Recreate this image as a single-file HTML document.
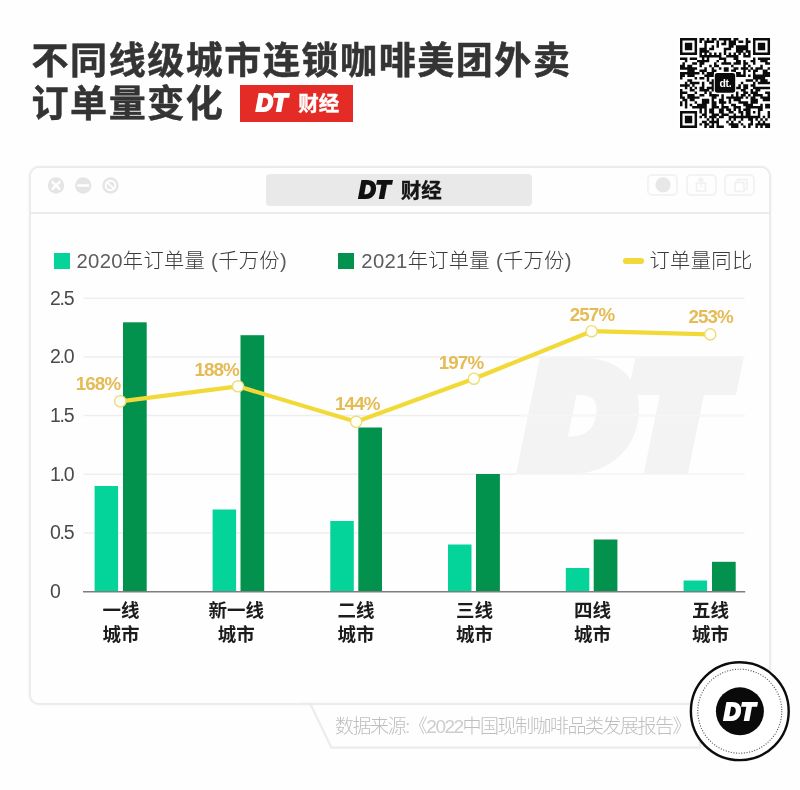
<!DOCTYPE html>
<html lang="zh-CN">
<head>
<meta charset="utf-8">
<title>不同线级城市连锁咖啡美团外卖订单量变化</title>
<style>
*{margin:0;padding:0;box-sizing:border-box;}
html,body{width:800px;height:790px;background:#fefefe;overflow:hidden;}
body{position:relative;font-family:"Liberation Sans","Noto Sans CJK SC",sans-serif;color:#333;}
.abs{position:absolute;}
svg{overflow:visible;}
.title{left:31.5px;top:39.5px;font-size:37px;line-height:43.5px;font-weight:700;color:#343434;letter-spacing:1.57px;white-space:nowrap;-webkit-text-stroke:0.5px #343434;}
.badge{left:240.2px;top:85.2px;width:112.4px;height:36.6px;background:#e42b25;}
.cj{font-size:20.5px;line-height:30px;font-weight:700;white-space:nowrap;}
.card{left:29px;top:165.5px;width:742px;height:539.4px;border:2.2px solid #ececec;border-radius:10px;background:#fefefe;box-shadow:0 0 3px rgba(0,0,0,0.05);}
.sep{left:31px;top:212px;width:738px;height:2px;background:#ececec;}
.pill{left:266px;top:174px;width:266px;height:32px;background:#e9e9e9;border-radius:4px;}
.ibtn{top:174px;width:31px;height:22px;border:2px solid #f3f3f3;border-radius:5px;}
.legend{top:246px;font-size:20.3px;line-height:30px;font-weight:300;color:#3a3a3a;white-space:nowrap;letter-spacing:0.3px;}
.lt{color:#5c5c5c;}
.lt2{color:#cdcdcd;}
.sq{width:16px;height:16px;top:253px;}
.ylab{left:50px;font-size:19.5px;line-height:24px;font-weight:400;color:#4a4a4a;letter-spacing:-1.3px;white-space:nowrap;}
.xlab{width:100px;text-align:center;font-size:18.5px;line-height:24px;font-weight:700;color:#1c1c1c;top:598.6px;}
.pct{font-size:18.8px;line-height:22px;font-weight:700;color:#e5bb55;width:70px;text-align:center;letter-spacing:-0.9px;white-space:nowrap;}
.src{left:335px;top:713.4px;font-size:19px;line-height:28px;font-weight:200;color:#bebebe;white-space:nowrap;letter-spacing:-1.5px;}
</style>
</head>
<body>
<div class="abs title">不同线级城市连锁咖啡美团外卖<br>订单量变化</div>

<div class="abs badge"></div>
<svg class="abs" style="left:240px;top:85px" width="113" height="37" viewBox="0 0 113 37">
  <text x="15.9" y="26.2" font-family="Liberation Sans, sans-serif" font-size="23.8" font-weight="700" font-style="italic" fill="#fff" stroke="#fff" stroke-width="2.1" stroke-linejoin="miter" textLength="31.3" lengthAdjust="spacingAndGlyphs">DT</text>
</svg>
<div class="abs cj" style="left:298.2px;top:89px;color:#fff;-webkit-text-stroke:0.35px #fff">财经</div>

<!-- QR code -->
<svg class="abs" style="left:679.8px;top:38.3px" width="90" height="90" viewBox="0 0 90 90">
  <rect x="-2" y="-2" width="94" height="94" fill="#fff"/>
  <path fill="#0b0b0b" d="M0.00,0.00h17.08v2.48h-17.08zM19.46,0.00h4.91v2.48h-4.91zM26.76,0.00h2.48v2.48h-2.48zM31.62,0.00h4.91v2.48h-4.91zM38.92,0.00h12.21v2.48h-12.21zM53.51,0.00h4.91v2.48h-4.91zM65.68,0.00h2.48v2.48h-2.48zM72.97,0.00h17.08v2.48h-17.08zM0.00,2.43h2.48v2.48h-2.48zM14.59,2.43h2.48v2.48h-2.48zM19.46,2.43h2.48v2.48h-2.48zM24.32,2.43h9.78v2.48h-9.78zM36.49,2.43h2.48v2.48h-2.48zM43.78,2.43h2.48v2.48h-2.48zM48.65,2.43h7.35v2.48h-7.35zM58.38,2.43h4.91v2.48h-4.91zM65.68,2.43h4.91v2.48h-4.91zM72.97,2.43h2.48v2.48h-2.48zM87.57,2.43h2.48v2.48h-2.48zM0.00,4.86h2.48v2.48h-2.48zM4.86,4.86h7.35v2.48h-7.35zM14.59,4.86h2.48v2.48h-2.48zM24.32,4.86h2.48v2.48h-2.48zM36.49,4.86h2.48v2.48h-2.48zM41.35,4.86h4.91v2.48h-4.91zM48.65,4.86h7.35v2.48h-7.35zM65.68,4.86h2.48v2.48h-2.48zM72.97,4.86h2.48v2.48h-2.48zM77.84,4.86h7.35v2.48h-7.35zM87.57,4.86h2.48v2.48h-2.48zM0.00,7.30h2.48v2.48h-2.48zM4.86,7.30h7.35v2.48h-7.35zM14.59,7.30h2.48v2.48h-2.48zM24.32,7.30h2.48v2.48h-2.48zM31.62,7.30h2.48v2.48h-2.48zM36.49,7.30h2.48v2.48h-2.48zM48.65,7.30h4.91v2.48h-4.91zM55.95,7.30h12.21v2.48h-12.21zM72.97,7.30h2.48v2.48h-2.48zM77.84,7.30h7.35v2.48h-7.35zM87.57,7.30h2.48v2.48h-2.48zM0.00,9.73h2.48v2.48h-2.48zM4.86,9.73h7.35v2.48h-7.35zM14.59,9.73h2.48v2.48h-2.48zM19.46,9.73h7.35v2.48h-7.35zM29.19,9.73h4.91v2.48h-4.91zM43.78,9.73h7.35v2.48h-7.35zM55.95,9.73h12.21v2.48h-12.21zM72.97,9.73h2.48v2.48h-2.48zM77.84,9.73h7.35v2.48h-7.35zM87.57,9.73h2.48v2.48h-2.48zM0.00,12.16h2.48v2.48h-2.48zM14.59,12.16h2.48v2.48h-2.48zM19.46,12.16h9.78v2.48h-9.78zM43.78,12.16h2.48v2.48h-2.48zM55.95,12.16h7.35v2.48h-7.35zM65.68,12.16h4.91v2.48h-4.91zM72.97,12.16h2.48v2.48h-2.48zM87.57,12.16h2.48v2.48h-2.48zM0.00,14.59h17.08v2.48h-17.08zM19.46,14.59h2.48v2.48h-2.48zM24.32,14.59h2.48v2.48h-2.48zM29.19,14.59h2.48v2.48h-2.48zM34.05,14.59h2.48v2.48h-2.48zM38.92,14.59h2.48v2.48h-2.48zM43.78,14.59h2.48v2.48h-2.48zM48.65,14.59h2.48v2.48h-2.48zM53.51,14.59h2.48v2.48h-2.48zM58.38,14.59h2.48v2.48h-2.48zM63.24,14.59h2.48v2.48h-2.48zM68.11,14.59h2.48v2.48h-2.48zM72.97,14.59h17.08v2.48h-17.08zM19.46,17.03h21.94v2.48h-21.94zM46.22,17.03h12.21v2.48h-12.21zM63.24,17.03h7.35v2.48h-7.35zM0.00,19.46h7.35v2.48h-7.35zM9.73,19.46h7.35v2.48h-7.35zM21.89,19.46h2.48v2.48h-2.48zM26.76,19.46h2.48v2.48h-2.48zM38.92,19.46h7.35v2.48h-7.35zM53.51,19.46h4.91v2.48h-4.91zM72.97,19.46h2.48v2.48h-2.48zM77.84,19.46h12.21v2.48h-12.21zM4.86,21.89h2.48v2.48h-2.48zM17.03,21.89h12.21v2.48h-12.21zM36.49,21.89h2.48v2.48h-2.48zM43.78,21.89h2.48v2.48h-2.48zM55.95,21.89h4.91v2.48h-4.91zM63.24,21.89h2.48v2.48h-2.48zM70.54,21.89h4.91v2.48h-4.91zM80.27,21.89h7.35v2.48h-7.35zM2.43,24.32h2.48v2.48h-2.48zM12.16,24.32h4.91v2.48h-4.91zM19.46,24.32h4.91v2.48h-4.91zM34.05,24.32h2.48v2.48h-2.48zM41.35,24.32h9.78v2.48h-9.78zM53.51,24.32h7.35v2.48h-7.35zM63.24,24.32h4.91v2.48h-4.91zM72.97,24.32h2.48v2.48h-2.48zM85.14,24.32h4.91v2.48h-4.91zM0.00,26.76h4.91v2.48h-4.91zM7.30,26.76h4.91v2.48h-4.91zM19.46,26.76h2.48v2.48h-2.48zM29.19,26.76h2.48v2.48h-2.48zM34.05,26.76h4.91v2.48h-4.91zM51.08,26.76h2.48v2.48h-2.48zM63.24,26.76h2.48v2.48h-2.48zM68.11,26.76h2.48v2.48h-2.48zM80.27,26.76h2.48v2.48h-2.48zM0.00,29.19h17.08v2.48h-17.08zM24.32,29.19h2.48v2.48h-2.48zM31.62,29.19h2.48v2.48h-2.48zM38.92,29.19h2.48v2.48h-2.48zM43.78,29.19h4.91v2.48h-4.91zM53.51,29.19h4.91v2.48h-4.91zM60.81,29.19h7.35v2.48h-7.35zM70.54,29.19h2.48v2.48h-2.48zM75.41,29.19h7.35v2.48h-7.35zM87.57,29.19h2.48v2.48h-2.48zM7.30,31.62h7.35v2.48h-7.35zM19.46,31.62h7.35v2.48h-7.35zM31.62,31.62h4.91v2.48h-4.91zM43.78,31.62h4.91v2.48h-4.91zM51.08,31.62h4.91v2.48h-4.91zM63.24,31.62h2.48v2.48h-2.48zM68.11,31.62h2.48v2.48h-2.48zM72.97,31.62h4.91v2.48h-4.91zM82.70,31.62h4.91v2.48h-4.91zM0.00,34.05h19.51v2.48h-19.51zM21.89,34.05h2.48v2.48h-2.48zM26.76,34.05h7.35v2.48h-7.35zM55.95,34.05h4.91v2.48h-4.91zM63.24,34.05h2.48v2.48h-2.48zM72.97,34.05h2.48v2.48h-2.48zM82.70,34.05h7.35v2.48h-7.35zM0.00,36.49h4.91v2.48h-4.91zM7.30,36.49h7.35v2.48h-7.35zM24.32,36.49h9.78v2.48h-9.78zM55.95,36.49h9.78v2.48h-9.78zM68.11,36.49h2.48v2.48h-2.48zM72.97,36.49h17.08v2.48h-17.08zM0.00,38.92h2.48v2.48h-2.48zM14.59,38.92h2.48v2.48h-2.48zM19.46,38.92h4.91v2.48h-4.91zM26.76,38.92h2.48v2.48h-2.48zM72.97,38.92h12.21v2.48h-12.21zM7.30,41.35h4.91v2.48h-4.91zM26.76,41.35h2.48v2.48h-2.48zM31.62,41.35h2.48v2.48h-2.48zM65.68,41.35h7.35v2.48h-7.35zM75.41,41.35h2.48v2.48h-2.48zM80.27,41.35h7.35v2.48h-7.35zM4.86,43.78h2.48v2.48h-2.48zM9.73,43.78h9.78v2.48h-9.78zM21.89,43.78h2.48v2.48h-2.48zM29.19,43.78h4.91v2.48h-4.91zM60.81,43.78h2.48v2.48h-2.48zM72.97,43.78h2.48v2.48h-2.48zM77.84,43.78h12.21v2.48h-12.21zM0.00,46.22h9.78v2.48h-9.78zM12.16,46.22h2.48v2.48h-2.48zM21.89,46.22h2.48v2.48h-2.48zM31.62,46.22h2.48v2.48h-2.48zM58.38,46.22h2.48v2.48h-2.48zM63.24,46.22h4.91v2.48h-4.91zM70.54,46.22h4.91v2.48h-4.91zM4.86,48.65h2.48v2.48h-2.48zM9.73,48.65h2.48v2.48h-2.48zM14.59,48.65h2.48v2.48h-2.48zM19.46,48.65h4.91v2.48h-4.91zM26.76,48.65h7.35v2.48h-7.35zM55.95,48.65h4.91v2.48h-4.91zM63.24,48.65h4.91v2.48h-4.91zM72.97,48.65h17.08v2.48h-17.08zM0.00,51.08h2.48v2.48h-2.48zM9.73,51.08h4.91v2.48h-4.91zM19.46,51.08h9.78v2.48h-9.78zM31.62,51.08h2.48v2.48h-2.48zM60.81,51.08h4.91v2.48h-4.91zM70.54,51.08h2.48v2.48h-2.48zM75.41,51.08h4.91v2.48h-4.91zM0.00,53.51h7.35v2.48h-7.35zM14.59,53.51h2.48v2.48h-2.48zM24.32,53.51h2.48v2.48h-2.48zM29.19,53.51h2.48v2.48h-2.48zM55.95,53.51h2.48v2.48h-2.48zM63.24,53.51h4.91v2.48h-4.91zM70.54,53.51h7.35v2.48h-7.35zM85.14,53.51h4.91v2.48h-4.91zM0.00,55.95h2.48v2.48h-2.48zM7.30,55.95h7.35v2.48h-7.35zM19.46,55.95h4.91v2.48h-4.91zM29.19,55.95h9.78v2.48h-9.78zM41.35,55.95h2.48v2.48h-2.48zM51.08,55.95h2.48v2.48h-2.48zM55.95,55.95h2.48v2.48h-2.48zM60.81,55.95h4.91v2.48h-4.91zM68.11,55.95h2.48v2.48h-2.48zM72.97,55.95h9.78v2.48h-9.78zM87.57,55.95h2.48v2.48h-2.48zM0.00,58.38h4.91v2.48h-4.91zM7.30,58.38h12.21v2.48h-12.21zM31.62,58.38h4.91v2.48h-4.91zM41.35,58.38h2.48v2.48h-2.48zM46.22,58.38h17.08v2.48h-17.08zM65.68,58.38h2.48v2.48h-2.48zM70.54,58.38h4.91v2.48h-4.91zM80.27,58.38h9.78v2.48h-9.78zM2.43,60.81h4.91v2.48h-4.91zM9.73,60.81h4.91v2.48h-4.91zM21.89,60.81h7.35v2.48h-7.35zM31.62,60.81h2.48v2.48h-2.48zM38.92,60.81h4.91v2.48h-4.91zM48.65,60.81h2.48v2.48h-2.48zM53.51,60.81h7.35v2.48h-7.35zM70.54,60.81h7.35v2.48h-7.35zM82.70,60.81h7.35v2.48h-7.35zM0.00,63.24h2.48v2.48h-2.48zM4.86,63.24h2.48v2.48h-2.48zM14.59,63.24h2.48v2.48h-2.48zM21.89,63.24h7.35v2.48h-7.35zM31.62,63.24h4.91v2.48h-4.91zM38.92,63.24h7.35v2.48h-7.35zM48.65,63.24h2.48v2.48h-2.48zM58.38,63.24h9.78v2.48h-9.78zM70.54,63.24h7.35v2.48h-7.35zM0.00,65.68h2.48v2.48h-2.48zM4.86,65.68h2.48v2.48h-2.48zM9.73,65.68h2.48v2.48h-2.48zM17.03,65.68h9.78v2.48h-9.78zM31.62,65.68h4.91v2.48h-4.91zM41.35,65.68h2.48v2.48h-2.48zM51.08,65.68h4.91v2.48h-4.91zM63.24,65.68h9.78v2.48h-9.78zM80.27,65.68h2.48v2.48h-2.48zM85.14,65.68h4.91v2.48h-4.91zM4.86,68.11h2.48v2.48h-2.48zM12.16,68.11h14.64v2.48h-14.64zM31.62,68.11h7.35v2.48h-7.35zM41.35,68.11h7.35v2.48h-7.35zM53.51,68.11h7.35v2.48h-7.35zM65.68,68.11h17.08v2.48h-17.08zM85.14,68.11h4.91v2.48h-4.91zM19.46,70.54h2.48v2.48h-2.48zM24.32,70.54h2.48v2.48h-2.48zM29.19,70.54h4.91v2.48h-4.91zM38.92,70.54h4.91v2.48h-4.91zM46.22,70.54h4.91v2.48h-4.91zM53.51,70.54h2.48v2.48h-2.48zM58.38,70.54h2.48v2.48h-2.48zM63.24,70.54h7.35v2.48h-7.35zM77.84,70.54h4.91v2.48h-4.91zM0.00,72.97h17.08v2.48h-17.08zM19.46,72.97h2.48v2.48h-2.48zM24.32,72.97h2.48v2.48h-2.48zM29.19,72.97h4.91v2.48h-4.91zM38.92,72.97h4.91v2.48h-4.91zM48.65,72.97h4.91v2.48h-4.91zM58.38,72.97h4.91v2.48h-4.91zM65.68,72.97h4.91v2.48h-4.91zM72.97,72.97h2.48v2.48h-2.48zM77.84,72.97h2.48v2.48h-2.48zM87.57,72.97h2.48v2.48h-2.48zM0.00,75.41h2.48v2.48h-2.48zM14.59,75.41h2.48v2.48h-2.48zM21.89,75.41h4.91v2.48h-4.91zM31.62,75.41h7.35v2.48h-7.35zM41.35,75.41h7.35v2.48h-7.35zM53.51,75.41h2.48v2.48h-2.48zM60.81,75.41h2.48v2.48h-2.48zM65.68,75.41h4.91v2.48h-4.91zM77.84,75.41h2.48v2.48h-2.48zM87.57,75.41h2.48v2.48h-2.48zM0.00,77.84h2.48v2.48h-2.48zM4.86,77.84h7.35v2.48h-7.35zM14.59,77.84h2.48v2.48h-2.48zM19.46,77.84h2.48v2.48h-2.48zM24.32,77.84h2.48v2.48h-2.48zM29.19,77.84h7.35v2.48h-7.35zM38.92,77.84h4.91v2.48h-4.91zM48.65,77.84h31.67v2.48h-31.67zM82.70,77.84h2.48v2.48h-2.48zM87.57,77.84h2.48v2.48h-2.48zM0.00,80.27h2.48v2.48h-2.48zM4.86,80.27h7.35v2.48h-7.35zM14.59,80.27h2.48v2.48h-2.48zM26.76,80.27h2.48v2.48h-2.48zM31.62,80.27h2.48v2.48h-2.48zM36.49,80.27h2.48v2.48h-2.48zM48.65,80.27h2.48v2.48h-2.48zM53.51,80.27h2.48v2.48h-2.48zM60.81,80.27h2.48v2.48h-2.48zM68.11,80.27h4.91v2.48h-4.91zM75.41,80.27h2.48v2.48h-2.48zM80.27,80.27h2.48v2.48h-2.48zM85.14,80.27h2.48v2.48h-2.48zM0.00,82.70h2.48v2.48h-2.48zM4.86,82.70h7.35v2.48h-7.35zM14.59,82.70h2.48v2.48h-2.48zM21.89,82.70h4.91v2.48h-4.91zM29.19,82.70h9.78v2.48h-9.78zM46.22,82.70h2.48v2.48h-2.48zM51.08,82.70h2.48v2.48h-2.48zM58.38,82.70h2.48v2.48h-2.48zM70.54,82.70h2.48v2.48h-2.48zM77.84,82.70h2.48v2.48h-2.48zM82.70,82.70h2.48v2.48h-2.48zM0.00,85.14h2.48v2.48h-2.48zM14.59,85.14h2.48v2.48h-2.48zM19.46,85.14h2.48v2.48h-2.48zM24.32,85.14h4.91v2.48h-4.91zM31.62,85.14h2.48v2.48h-2.48zM36.49,85.14h2.48v2.48h-2.48zM48.65,85.14h9.78v2.48h-9.78zM60.81,85.14h2.48v2.48h-2.48zM68.11,85.14h4.91v2.48h-4.91zM75.41,85.14h14.64v2.48h-14.64zM0.00,87.57h17.08v2.48h-17.08zM24.32,87.57h2.48v2.48h-2.48zM29.19,87.57h4.91v2.48h-4.91zM36.49,87.57h7.35v2.48h-7.35zM51.08,87.57h7.35v2.48h-7.35zM63.24,87.57h2.48v2.48h-2.48zM68.11,87.57h2.48v2.48h-2.48zM75.41,87.57h2.48v2.48h-2.48zM80.27,87.57h2.48v2.48h-2.48zM85.14,87.57h4.91v2.48h-4.91z"/>
  <rect x="33.8" y="33.8" width="22.4" height="22.4" rx="3" fill="#fff"/>
  <rect x="34.8" y="34.9" width="20.4" height="19.8" rx="2.6" fill="#0b0b0b" shape-rendering="auto"/>
  <text x="45.5" y="48.8" text-anchor="middle" font-family="Liberation Sans, sans-serif" font-size="10.4" font-weight="700" fill="#fff" letter-spacing="-0.2">dt.</text>
</svg>

<div class="abs card"></div>
<div class="abs sep"></div>

<!-- window buttons -->
<svg class="abs" style="left:40px;top:170px" width="90" height="32" viewBox="0 0 90 32">
  <g fill="#e5e5e5"><circle cx="16" cy="15.5" r="8.2"/><circle cx="43.2" cy="15.5" r="8.2"/><circle cx="70.5" cy="15.5" r="8.2"/></g>
  <g stroke="#fefefe" stroke-width="2.6" stroke-linecap="round" fill="none">
    <path d="M12.6,12.1 L19.4,18.9 M19.4,12.1 L12.6,18.9"/>
    <path d="M38.4,15.5 L48,15.5"/>
  </g>
  <g stroke="#fefefe" stroke-width="2" fill="none">
    <circle cx="70.5" cy="15.5" r="4.8"/>
    <path d="M67.2,12.2 L73.8,18.8"/>
  </g>
</svg>

<div class="abs pill"></div>
<svg class="abs" style="left:350px;top:174px" width="60" height="32" viewBox="0 0 60 32">
  <text x="8.7" y="24.1" font-family="Liberation Sans, sans-serif" font-size="23.2" font-weight="700" font-style="italic" fill="#111" stroke="#111" stroke-width="2.1" stroke-linejoin="miter" textLength="31.3" lengthAdjust="spacingAndGlyphs">DT</text>
</svg>
<div class="abs cj" style="left:400.8px;top:176px;color:#161616;-webkit-text-stroke:0.3px #161616">财经</div>

<div class="abs ibtn" style="left:647px"></div>
<div class="abs ibtn" style="left:685.5px"></div>
<div class="abs ibtn" style="left:723.5px"></div>
<svg class="abs" style="left:647px;top:174px" width="110" height="22" viewBox="0 0 110 22">
  <circle cx="16" cy="10.8" r="7.6" fill="#e7e7e7"/>
  <g fill="none" stroke="#f0f0f0" stroke-width="1.6">
    <rect x="49.5" y="9" width="9" height="8"/>
    <path d="M54,13 V4.5 M51.2,7 L54,4.2 L56.8,7"/>
    <rect x="88" y="8.5" width="9" height="9"/>
    <path d="M90.5,8.5 V5.5 H100 V15 H97"/>
  </g>
</svg>

<!-- legend -->
<div class="abs sq" style="left:53.5px;background:#04d49a"></div>
<div class="abs legend" style="left:76.5px"><span class="lt">2020</span>年订单量 <span class="lt">(</span>千万份<span class="lt">)</span></div>
<div class="abs sq" style="left:338px;background:#03914e"></div>
<div class="abs legend" style="left:361.3px"><span class="lt">2021</span>年订单量 <span class="lt">(</span>千万份<span class="lt">)</span></div>
<div class="abs" style="left:622.5px;top:258.2px;width:21.5px;height:5.4px;border-radius:2.7px;background:#f1da37"></div>
<div class="abs legend" style="left:649.4px;letter-spacing:0.35px">订单量同比</div>

<!-- chart -->
<svg class="abs" style="left:0;top:0" width="800" height="790" viewBox="0 0 800 790">
  <g stroke="#eeeeee" stroke-width="1.5">
    <line x1="83.5" y1="298.2" x2="744.5" y2="298.2"/>
    <line x1="83.5" y1="357" x2="744.5" y2="357"/>
    <line x1="83.5" y1="415.6" x2="744.5" y2="415.6"/>
    <line x1="83.5" y1="474.2" x2="744.5" y2="474.2"/>
    <line x1="83.5" y1="533" x2="744.5" y2="533"/>
  </g>
  <text x="527.5" y="462.5" font-family="Liberation Sans, sans-serif" font-size="138" font-weight="700" font-style="italic" fill="#f3f3f3" stroke="#f3f3f3" stroke-width="22" stroke-linejoin="miter" textLength="192" lengthAdjust="spacingAndGlyphs">DT</text>
  <g stroke="#f6f6f6" stroke-width="1.6">
    <line x1="520" y1="357" x2="744.5" y2="357"/>
    <line x1="520" y1="415.6" x2="744.5" y2="415.6"/>
    <line x1="516" y1="474.2" x2="744.5" y2="474.2"/>
  </g>
  <g fill="#04d49a">
    <rect x="94.6" y="486" width="23.5" height="106"/>
    <rect x="212.6" y="509.5" width="23.5" height="82.5"/>
    <rect x="330.3" y="521" width="23.5" height="71"/>
    <rect x="448" y="544.5" width="23.5" height="47.5"/>
    <rect x="565.8" y="568" width="23.5" height="24"/>
    <rect x="683.6" y="580.5" width="23.5" height="11.5"/>
  </g>
  <g fill="#03914e">
    <rect x="123" y="322.3" width="23.7" height="269.7"/>
    <rect x="240.5" y="335.2" width="23.7" height="256.8"/>
    <rect x="358.3" y="427.5" width="23.7" height="164.5"/>
    <rect x="476" y="474" width="23.9" height="118"/>
    <rect x="593.7" y="539.5" width="23.7" height="52.5"/>
    <rect x="712" y="561.8" width="23.7" height="30.2"/>
  </g>
  <line x1="83" y1="591.7" x2="745.2" y2="591.7" stroke="#7d7d7d" stroke-width="1.6"/>
  <polyline points="120.3,401.3 238,386.3 356.2,421.8 473.9,378.7 591.6,331.2 710.3,334.4" fill="none" stroke="#f1da37" stroke-width="4.2" stroke-linejoin="round"/>
  <g fill="#fffffa" stroke="#eedc78" stroke-width="1.4">
    <circle cx="120.3" cy="401.3" r="5.6"/><circle cx="238" cy="386.3" r="5.6"/><circle cx="356.2" cy="421.8" r="5.6"/>
    <circle cx="473.9" cy="378.7" r="5.6"/><circle cx="591.6" cy="331.2" r="5.6"/><circle cx="710.3" cy="334.4" r="5.6"/>
  </g>
</svg>

<div class="abs ylab" style="top:285.5px">2.5</div>
<div class="abs ylab" style="top:344px">2.0</div>
<div class="abs ylab" style="top:402.5px">1.5</div>
<div class="abs ylab" style="top:461.5px">1.0</div>
<div class="abs ylab" style="top:520px">0.5</div>
<div class="abs ylab" style="top:579px">0</div>

<div class="abs pct" style="left:63px;top:373px">168%</div>
<div class="abs pct" style="left:181.6px;top:358.5px">188%</div>
<div class="abs pct" style="left:322.3px;top:392.6px">144%</div>
<div class="abs pct" style="left:426px;top:351.5px">197%</div>
<div class="abs pct" style="left:557px;top:304px">257%</div>
<div class="abs pct" style="left:675.6px;top:306px">253%</div>

<div class="abs xlab" style="left:71px">一线<br>城市</div>
<div class="abs xlab" style="left:186.3px">新一线<br>城市</div>
<div class="abs xlab" style="left:306px">二线<br>城市</div>
<div class="abs xlab" style="left:424.4px">三线<br>城市</div>
<div class="abs xlab" style="left:542.5px">四线<br>城市</div>
<div class="abs xlab" style="left:660.6px">五线<br>城市</div>

<!-- source tab -->
<svg class="abs" style="left:300px;top:700px" width="420" height="60" viewBox="0 0 420 60">
  <path d="M10.3,3.8 L400,3.8 L400,47.7 L31.4,47.7 Z" fill="#fefefe" stroke="#ececec" stroke-width="2.2" stroke-linejoin="miter"/>
  <rect x="12.5" y="-1" width="390" height="3.6" fill="#fefefe"/>
  <line x1="0" y1="3.8" x2="400" y2="3.8" stroke="#ececec" stroke-width="2.2"/>
</svg>
<div class="abs src">数据来源<span class="lt2">:</span>《<span class="lt2">2022</span>中国现制咖啡品类发展报告》</div>

<!-- round logo -->
<svg class="abs" style="left:685px;top:656px" width="110" height="110" viewBox="0 0 110 110">
  <circle cx="54.8" cy="55.6" r="50.5" fill="#000" opacity="0.05"/>
  <circle cx="54.8" cy="55.2" r="48.9" fill="#fff" stroke="#0c0c0c" stroke-width="2.4"/>
  <circle cx="54.8" cy="55.2" r="42" fill="none" stroke="#4a4a4a" stroke-width="1.1" stroke-dasharray="1 1.64"/>
  <circle cx="54.9" cy="55.3" r="24" fill="#0a0a0a"/>
  <text x="38.8" y="63.5" font-family="Liberation Sans, sans-serif" font-size="23.5" font-weight="700" font-style="italic" fill="#fff" stroke="#fff" stroke-width="2.1" stroke-linejoin="miter" textLength="31.3" lengthAdjust="spacingAndGlyphs">DT</text>
</svg>
</body>
</html>
